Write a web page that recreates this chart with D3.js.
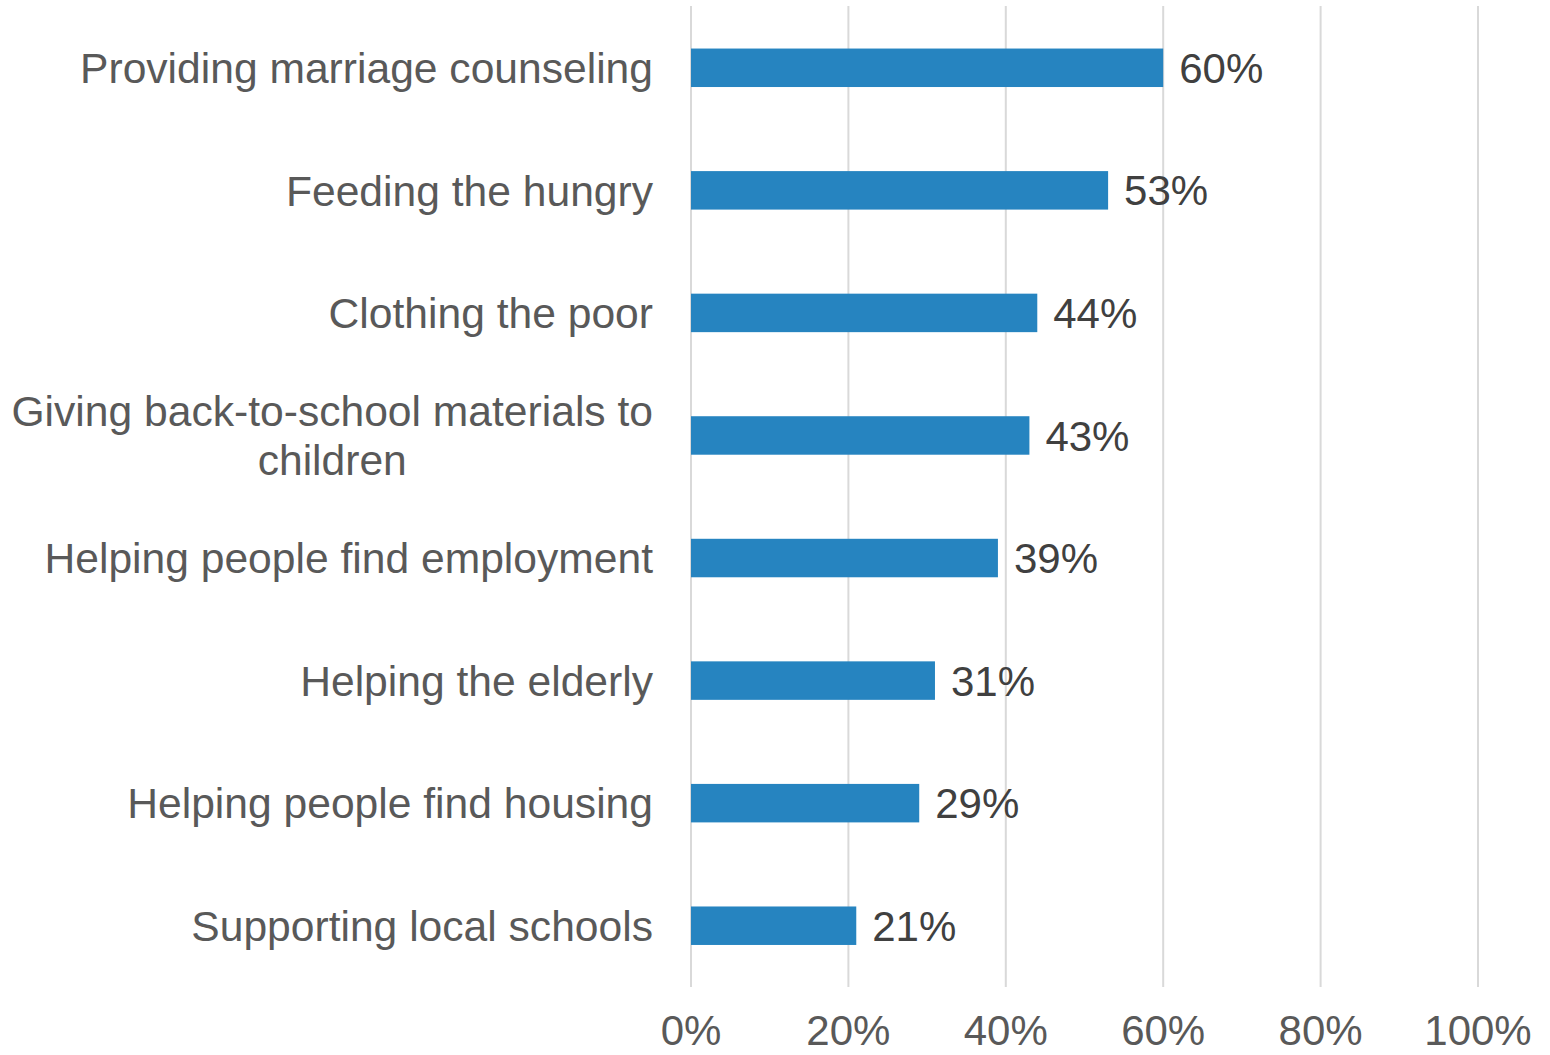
<!DOCTYPE html>
<html><head><meta charset="utf-8">
<script src="https://cdn.jsdelivr.net/npm/d3@7"></script>
<style>body{margin:0;background:#fff}svg{display:block}</style>
</head><body>
<script>
const categories = [
  "Providing marriage counseling",
  "Feeding the hungry",
  "Clothing the poor",
  "Giving back-to-school materials to|children",
  "Helping people find employment",
  "Helping the elderly",
  "Helping people find housing",
  "Supporting local schools"
];
const values = [60, 53, 44, 43, 39, 31, 29, 21];
const tickValues = [0, 20, 40, 60, 80, 100];

const W = 1550, H = 1055;
const svg = d3.select("body").append("svg").attr("width", W).attr("height", H);
const font = "'Liberation Sans', Arial, sans-serif";

const x = d3.scaleLinear().domain([0, 100]).range([691, 1478]);
const y = d3.scaleBand().domain(categories).range([6.5, 987]).paddingInner(0.686).paddingOuter(0.343);

// gridlines
svg.append("g").selectAll("line").data(tickValues).join("line")
  .attr("x1", d => x(d)).attr("x2", d => x(d))
  .attr("y1", 6).attr("y2", 987)
  .attr("stroke", "#d9d9d9").attr("stroke-width", 2);

// x tick labels
svg.append("g").selectAll("text").data(tickValues).join("text")
  .attr("x", d => x(d)).attr("y", 1045)
  .attr("text-anchor", "middle")
  .attr("font-family", font).attr("font-size", 42).attr("fill", "#595959")
  .text(d => d + "%");

// bars
svg.append("g").selectAll("rect").data(values).join("rect")
  .attr("x", x(0)).attr("y", (d, i) => y(categories[i]))
  .attr("width", d => x(d) - x(0)).attr("height", y.bandwidth())
  .attr("fill", "#2684c0");

// value labels
svg.append("g").selectAll("text").data(values).join("text")
  .attr("x", d => x(d) + 16)
  .attr("y", (d, i) => y(categories[i]) + y.bandwidth() / 2)
  .attr("dy", "0.36em")
  .attr("font-family", font).attr("font-size", 42).attr("fill", "#404040")
  .text(d => d + "%");

// category labels
const cl = svg.append("g").selectAll("text").data(categories).join("text")
  .attr("font-family", font).attr("font-size", 42.6).attr("fill", "#595959")
  .attr("text-anchor", "end")
  .attr("x", 653)
  .attr("y", d => y(d) + y.bandwidth() / 2)
  .attr("dy", "0.36em");
cl.each(function(d) {
  const parts = d.split("|");
  const t = d3.select(this);
  if (parts.length === 1) { t.text(d); return; }
  t.attr("dy", null);
  const cy = y(d) + y.bandwidth() / 2;
  const lh = 49;
  const tmp = t.append("tspan").text(parts[0]);
  const w0 = this.getComputedTextLength();
  tmp.remove();
  t.attr("text-anchor", "middle");
  const cx = 653 - w0 / 2;
  parts.forEach((p, k) => {
    t.append("tspan").attr("x", cx)
      .attr("y", cy + (k - (parts.length - 1) / 2) * lh)
      .attr("dy", "0.36em").text(p);
  });
});
</script>
</body></html>
